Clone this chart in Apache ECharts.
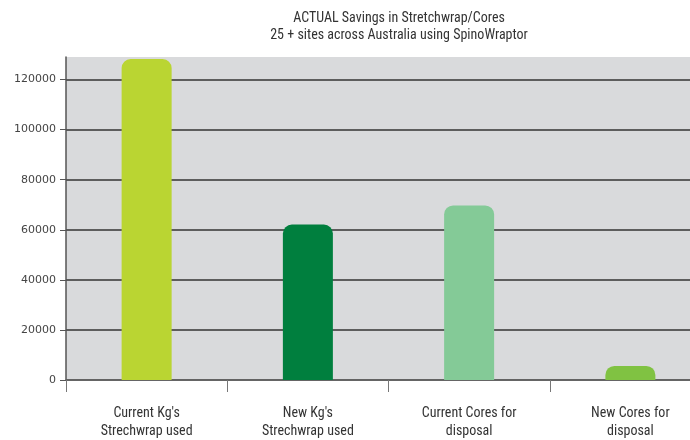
<!DOCTYPE html>
<html><head><meta charset="utf-8">
<script src="https://cdn.jsdelivr.net/npm/echarts@6/dist/echarts.min.js"></script>
<style>html,body{margin:0;padding:0;background:#fff;overflow:hidden}#c{width:712px;height:440px}</style>
</head><body><div id="c"></div>
<script>
const categories = ["Current Kg's\nStrechwrap used", "New Kg's\nStrechwrap used", "Current Cores for\ndisposal", "New Cores for\ndisposal"];
const values = [128200, 62100, 69700, 5600];
const barColors = ['#BAD532', '#007F3E', '#84CA97', '#80C242'];
const titleText = 'ACTUAL Savings in Stretchwrap/Cores\n25 + sites across Australia using SpinoWraptor';

const chart = echarts.init(document.getElementById('c'));
const cond = '"Liberation Sans Narrow", "Roboto Condensed", "DejaVu Sans Condensed", sans-serif';
chart.setOption({
  animation: false,
  title: {
    text: titleText, left: 394, top: 5, textAlign: 'center',
    textStyle: { fontFamily: cond, fontSize: 14, fontWeight: 'normal', color: '#333', lineHeight: 17 }
  },
  grid: { left: 66, top: 57, right: 1, height: 326, show: true, backgroundColor: '#D9DADC', borderWidth: 0 },
  xAxis: {
    type: 'category', data: categories,
    axisLine: { lineStyle: { color: '#666', width: 1.5 } },
    axisTick: { show: true, length: 12, lineStyle: { color: '#777' } },
    axisLabel: { margin: 24, fontFamily: cond, fontSize: 14, color: '#333', lineHeight: 18, interval: 0 }
  },
  yAxis: {
    type: 'value', min: 0, max: 129000, interval: 20000,
    axisLine: { show: true, lineStyle: { color: '#555', width: 1.5 } },
    axisTick: { show: true, length: 6, lineStyle: { color: '#555' } },
    axisLabel: { showMaxLabel: false, formatter: v => String(v), fontFamily: 'DejaVu Sans, sans-serif', fontSize: 11, color: '#444', margin: 10 },
    splitLine: { show: true, showMaxLine: false, lineStyle: { color: '#333', width: 1.5 } }
  },
  series: [{
    type: 'bar', barWidth: 50,
    data: values.map((v, i) => ({ value: v, itemStyle: { color: barColors[i] } })),
    itemStyle: { borderRadius: [9, 9, 0, 0] }
  }]
});
</script></body></html>
